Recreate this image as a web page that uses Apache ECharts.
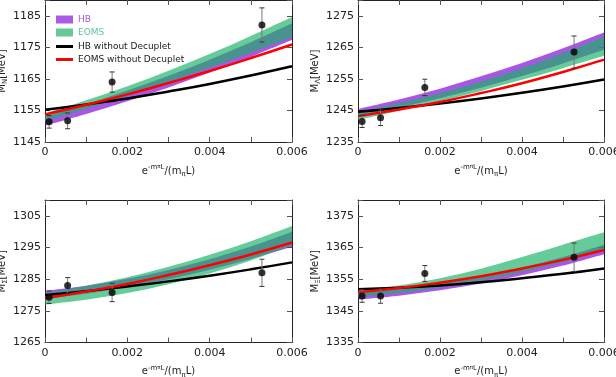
<!DOCTYPE html>
<html>
<head>
<meta charset="utf-8">
<script src="https://cdn.jsdelivr.net/npm/echarts@6/dist/echarts.min.js"></script>
<style>
html, body { margin: 0; padding: 0; background: #fff; }
#chart { width: 616px; height: 377px; }
</style>
</head>
<body>
<div id="chart"></div>
<script>
// x positions of the fit curves
const xs = [0, 0.001, 0.002, 0.003, 0.004, 0.005, 0.006];
// lattice points x
const ptX = [0.0001, 0.00055, 0.00163, 0.00527];

// N
const hbLowN = [1150.2, 1153.9, 1157.9, 1162.3, 1167.0, 1172.0, 1177.3];
const hbUpN = [1153.0, 1156.9, 1161.3, 1166.0, 1171.1, 1176.6, 1182.6];
const eomsLowN = [1151.5, 1155.5, 1159.6, 1164.0, 1168.5, 1173.3, 1178.2];
const eomsUpN = [1154.0, 1158.2, 1162.7, 1167.6, 1172.9, 1178.6, 1184.6];
const hbNoDecN = [1155.2, 1156.9, 1158.8, 1161.0, 1163.4, 1166.1, 1169.0];
const eomsNoDecN = [1153.7, 1156.8, 1160.1, 1163.7, 1167.5, 1171.6, 1175.9];
const ptN = [1151.4, 1151.7, 1164.0, 1182.1];
const errN = [2.0, 2.5, 3.2, 5.4];

// Lambda
const hbLowL = [1243.3, 1245.9, 1248.9, 1252.2, 1255.9, 1259.9, 1264.2];
const hbUpL = [1245.5, 1248.5, 1251.9, 1255.8, 1260.0, 1264.7, 1269.7];
const eomsLowL = [1242.0, 1244.9, 1248.0, 1251.2, 1254.7, 1258.4, 1262.3];
const eomsUpL = [1244.6, 1247.3, 1250.5, 1254.2, 1258.4, 1263.2, 1268.4];
const hbNoDecL = [1244.6, 1245.8, 1247.2, 1248.8, 1250.6, 1252.6, 1254.8];
const eomsNoDecL = [1243.2, 1245.3, 1247.7, 1250.5, 1253.6, 1257.2, 1261.1];
const ptL = [1241.5, 1242.7, 1252.3, 1263.5];
const errL = [1.9, 2.5, 2.6, 5.1];

// Sigma
const hbLowS = [1278.8, 1280.4, 1282.5, 1285.0, 1288.0, 1291.4, 1295.2];
const hbUpS = [1281.3, 1282.9, 1285.1, 1287.9, 1291.3, 1295.3, 1300.0];
const eomsLowS = [1277.0, 1278.5, 1280.6, 1283.4, 1286.8, 1290.9, 1295.8];
const eomsUpS = [1280.6, 1282.9, 1285.6, 1288.9, 1292.7, 1297.0, 1301.8];
const hbNoDecS = [1280.0, 1281.2, 1282.7, 1284.3, 1286.1, 1288.1, 1290.3];
const eomsNoDecS = [1279.0, 1281.1, 1283.5, 1286.3, 1289.4, 1292.8, 1296.6];
const ptS = [1279.3, 1283.0, 1280.8, 1287.0];
const errS = [2.0, 2.5, 2.9, 4.3];

// Xi
const hbLowX = [1348.6, 1349.8, 1351.5, 1353.6, 1356.2, 1359.3, 1362.9];
const hbUpX = [1350.8, 1352.0, 1353.6, 1355.9, 1358.7, 1362.0, 1365.9];
const eomsLowX = [1349.3, 1350.6, 1352.4, 1354.6, 1357.3, 1360.4, 1364.0];
const eomsUpX = [1351.2, 1353.0, 1355.3, 1358.3, 1362.0, 1365.9, 1369.8];
const hbNoDecX = [1351.8, 1352.3, 1353.0, 1354.0, 1355.3, 1356.7, 1358.4];
const eomsNoDecX = [1350.9, 1352.2, 1353.9, 1355.9, 1358.4, 1361.1, 1364.2];
const ptXi = [1349.7, 1349.7, 1356.8, 1361.9];
const errX = [2.0, 2.3, 2.5, 4.5];

// y axis ranges
const yMinN = 1145, yMinL = 1235, yMinS = 1265, yMinX = 1335;
const ySpan = 45;

const font = 'DejaVu Sans';
const purpleFill = 'rgba(125,5,215,0.67)';
const greenFill = 'rgba(25,178,102,0.67)';

const panels = [
  { sub: 'N', min: yMinN, hbLow: hbLowN, hbUp: hbUpN, eLow: eomsLowN, eUp: eomsUpN, hbNo: hbNoDecN, eNo: eomsNoDecN, pts: ptN, err: errN,
    grid: { left: 45, top: 0, width: 247, height: 142 } },
  { sub: 'Λ', min: yMinL, hbLow: hbLowL, hbUp: hbUpL, eLow: eomsLowL, eUp: eomsUpL, hbNo: hbNoDecL, eNo: eomsNoDecL, pts: ptL, err: errL,
    grid: { left: 358, top: 0, width: 246, height: 142 } },
  { sub: 'Σ', min: yMinS, hbLow: hbLowS, hbUp: hbUpS, eLow: eomsLowS, eUp: eomsUpS, hbNo: hbNoDecS, eNo: eomsNoDecS, pts: ptS, err: errS,
    grid: { left: 45, top: 200, width: 247, height: 142.5 } },
  { sub: 'Ξ', min: yMinX, hbLow: hbLowX, hbUp: hbUpX, eLow: eomsLowX, eUp: eomsUpX, hbNo: hbNoDecX, eNo: eomsNoDecX, pts: ptXi, err: errX,
    grid: { left: 358, top: 200, width: 246, height: 142.5 } },
];

const zip = (a, b) => a.map((v, i) => [v, b[i]]);

// smooth path (catmull-rom as bezier) through pixel points
function curveTo(pts, first) {
  let d = first ? 'M' + pts[0][0] + ' ' + pts[0][1] : 'L' + pts[0][0] + ' ' + pts[0][1];
  for (let i = 0; i < pts.length - 1; i++) {
    const p0 = pts[Math.max(i - 1, 0)], p1 = pts[i], p2 = pts[i + 1], p3 = pts[Math.min(i + 2, pts.length - 1)];
    const c1 = [p1[0] + (p2[0] - p0[0]) / 6, p1[1] + (p2[1] - p0[1]) / 6];
    const c2 = [p2[0] - (p3[0] - p1[0]) / 6, p2[1] - (p3[1] - p1[1]) / 6];
    d += ' C' + c1[0] + ' ' + c1[1] + ' ' + c2[0] + ' ' + c2[1] + ' ' + p2[0] + ' ' + p2[1];
  }
  return d;
}

const tickStyle = { show: true, inside: true, length: 5, lineStyle: { color: '#555', width: 1 } };
const frameLine = { show: true, onZero: false, lineStyle: { color: '#222', width: 1 } };

const grids = [], xAxes = [], yAxes = [], series = [];

panels.forEach((p, i) => {
  grids.push(Object.assign({ outerBoundsMode: 'none', containLabel: false }, p.grid));
  const max = p.min + ySpan;
  xAxes.push({
    type: 'value', gridIndex: i, min: 0, max: 0.006, interval: 0.001,
    axisLine: frameLine, axisTick: tickStyle, splitLine: { show: false },
    axisLabel: {
      margin: 5, color: '#222', fontFamily: font, fontSize: 11,
      formatter: (v) => {
        const k = Math.round(v * 1000);
        if (k % 2 !== 0) return '';
        return k === 0 ? '0' : v.toFixed(3);
      },
    },
    name: '{e|e}{sp|-m}{ss|π}{sp|L}{e|/(m}{sb|π}{e|L)}',
    nameLocation: 'middle', nameGap: 22,
    nameTextStyle: {
      color: '#222', fontFamily: font,
      rich: {
        e: { fontSize: 10, fontFamily: font, color: '#222', lineHeight: 14 },
        sp: { fontSize: 7, fontFamily: font, color: '#222', verticalAlign: 'top', lineHeight: 8 },
        ss: { fontSize: 5.5, fontFamily: font, color: '#222', verticalAlign: 'top', lineHeight: 11 },
        sb: { fontSize: 7, fontFamily: font, color: '#222', verticalAlign: 'bottom', lineHeight: 8 },
      },
    },
  });
  xAxes.push({
    type: 'value', gridIndex: i, position: 'top', min: 0, max: 0.006, interval: 0.001,
    axisLine: frameLine, axisTick: tickStyle, splitLine: { show: false }, axisLabel: { show: false },
  });
  yAxes.push({
    type: 'value', gridIndex: i, min: p.min, max: max, interval: 10,
    axisLine: frameLine, axisTick: tickStyle, splitLine: { show: false },
    axisLabel: {
      margin: 4, color: '#222', fontFamily: font, fontSize: 11,
      formatter: (v) => (Math.abs(v - max) < 1e-6 ? '' : String(v)),
    },
    name: '{m|M}{s|' + p.sub + '}{m|[MeV]}',
    nameLocation: 'middle', nameGap: 28, nameRotate: 90,
    nameTextStyle: {
      color: '#222', fontFamily: font,
      rich: {
        m: { fontSize: 10, fontFamily: font, color: '#222', lineHeight: 13 },
        s: { fontSize: 7, fontFamily: font, color: '#222', verticalAlign: 'bottom', lineHeight: 8 },
      },
    },
  });
  yAxes.push({
    type: 'value', gridIndex: i, position: 'right', min: p.min, max: max, interval: 10,
    axisLine: frameLine, axisTick: tickStyle, splitLine: { show: false }, axisLabel: { show: false },
  });

  const xi = 2 * i, yi = 2 * i;
  const band = (name, low, up, fill) => {
    series.push({
      name: name, type: 'custom', xAxisIndex: xi, yAxisIndex: yi, z: 1, silent: true,
      encode: { x: 0, y: [1, 2] },
      data: xs.map((x, k) => [x, low[k], up[k]]),
      renderItem: (params, api) => {
        if (params.dataIndex !== 0) return null;
        const upPts = xs.map((x, k) => api.coord([x, up[k]]));
        const lowPts = xs.map((x, k) => api.coord([x, low[k]])).reverse();
        const d = curveTo(upPts, true) + ' ' + curveTo(lowPts, false) + ' Z';
        return {
          type: 'path',
          shape: { pathData: d },
          style: { fill: fill, stroke: 'none' },
          clipPath: { type: 'rect', shape: params.coordSys },
        };
      },
    });
  };
  band('HB', p.hbLow, p.hbUp, purpleFill);
  band('EOMS', p.eLow, p.eUp, greenFill);

  series.push({
    name: 'HB without Decuplet', type: 'line', xAxisIndex: xi, yAxisIndex: yi,
    data: zip(xs, p.hbNo), smooth: true, symbol: 'none', lineStyle: { color: '#000', width: 2.5 }, z: 2,
  });
  series.push({
    name: 'EOMS without Decuplet', type: 'line', xAxisIndex: xi, yAxisIndex: yi,
    data: zip(xs, p.eNo), smooth: true, symbol: 'none', lineStyle: { color: '#ff0000', width: 2.5 }, z: 3,
  });

  series.push({
    type: 'custom', xAxisIndex: xi, yAxisIndex: yi, z: 4, silent: true,
    encode: { x: 0, y: 1 },
    data: ptX.map((x, k) => [x, p.pts[k], p.err[k]]),
    renderItem: (params, api) => {
      const x = api.value(0), y = api.value(1), e = api.value(2);
      const top = api.coord([x, y + e]);
      const bot = api.coord([x, y - e]);
      const cap = 2.5;
      return {
        type: 'group',
        children: [
          { type: 'line', shape: { x1: top[0], y1: top[1], x2: bot[0], y2: bot[1] }, style: { stroke: '#777', lineWidth: 1 } },
          { type: 'line', shape: { x1: top[0] - cap, y1: top[1], x2: top[0] + cap, y2: top[1] }, style: { stroke: '#333', lineWidth: 1 } },
          { type: 'line', shape: { x1: bot[0] - cap, y1: bot[1], x2: bot[0] + cap, y2: bot[1] }, style: { stroke: '#333', lineWidth: 1 } },
        ],
      };
    },
  });
  series.push({
    type: 'scatter', xAxisIndex: xi, yAxisIndex: yi, z: 5, silent: true,
    data: zip(ptX, p.pts), symbol: 'circle', symbolSize: 7, itemStyle: { color: '#000' },
  });
});

const legendBase = {
  orient: 'vertical', left: 51, itemWidth: 17, itemGap: 5, selectedMode: false,
  textStyle: { fontFamily: font, fontSize: 9, color: '#222' },
};

const myChart = echarts.init(document.getElementById('chart'), null, { renderer: 'canvas' });
const option = {
  animation: false,
  backgroundColor: '#fff',
  grid: grids,
  xAxis: xAxes,
  yAxis: yAxes,
  legend: [
    Object.assign({}, legendBase, { top: 10, itemHeight: 8,
      data: [{ name: 'HB', icon: 'rect', itemStyle: { color: '#aa5ae6' }, textStyle: { color: '#a855e3', fontFamily: font, fontSize: 9 } }] }),
    Object.assign({}, legendBase, { top: 23, itemHeight: 8,
      data: [{ name: 'EOMS', icon: 'rect', itemStyle: { color: '#65c998' }, textStyle: { color: '#5cc795', fontFamily: font, fontSize: 9 } }] }),
    Object.assign({}, legendBase, { top: 37, itemHeight: 3,
      data: [{ name: 'HB without Decuplet', icon: 'rect', itemStyle: { color: '#000' } }] }),
    Object.assign({}, legendBase, { top: 50, itemHeight: 3,
      data: [{ name: 'EOMS without Decuplet', icon: 'rect', itemStyle: { color: '#ff0000' } }] }),
  ],
  series: series,
};
myChart.setOption(option);
</script>
</body>
</html>
